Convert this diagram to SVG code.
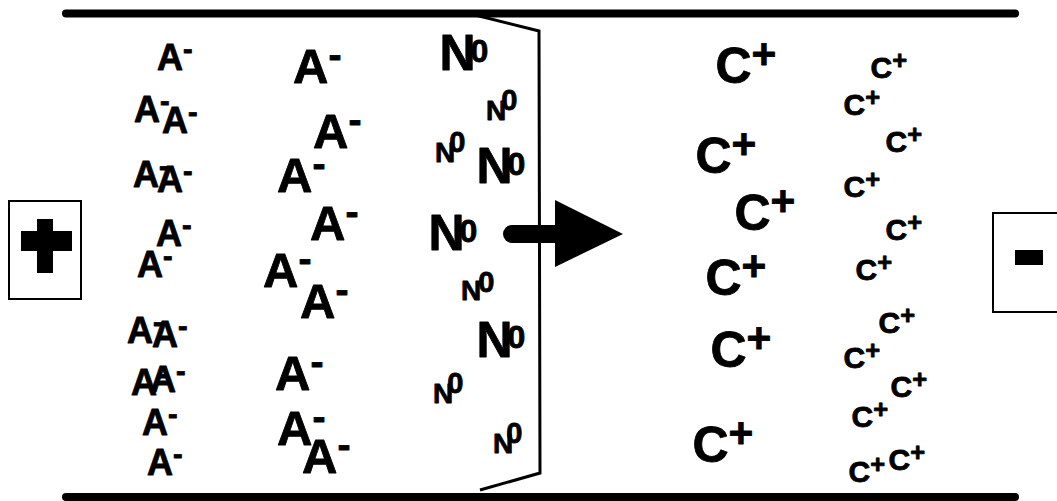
<svg xmlns="http://www.w3.org/2000/svg" width="1057" height="501" viewBox="0 0 1057 501">
<style>
text{font-family:"Liberation Sans",Arial,sans-serif;font-weight:bold;fill:#000;stroke:#000;stroke-width:0.8px;stroke-linejoin:round}
.as{font-size:36px}
.ab{font-size:49px}
.m{font-size:0.8em}
.nb{font-size:50px}
.ns{font-size:28px}
.zb{font-size:32px}
.zs{font-size:29px}
.cb{font-size:50px}
.cs{font-size:30px}
.p{font-size:0.85em}
.bar{stroke:#000;stroke-width:8;stroke-linecap:round;fill:none}
.thin{stroke:#000;stroke-width:3;fill:none;stroke-linejoin:miter}
.box{fill:#fff;stroke:#000;stroke-width:2}
</style>
<rect width="1057" height="501" fill="#fff"/>
<g id="plates">
<line class="bar" x1="66" y1="13.5" x2="1015" y2="13.5"/>
<line class="bar" x1="66" y1="497" x2="1015" y2="497"/>
</g>
<g id="anode">
<rect class="box" x="9" y="201" width="72" height="98"/>
<rect x="21" y="231" width="51" height="20" fill="#000"/>
<rect x="37" y="219" width="16" height="54" fill="#000"/>
</g>
<g id="cathode">
<rect class="box" x="993" y="213" width="70" height="99"/>
<rect x="1015" y="250" width="28" height="15" fill="#000"/>
</g>
<g id="membrane">
<polyline class="thin" points="467,13 539,31 540,473 480,490"/>
</g>
<g id="arrow">
<path d="M512,225 H556 V243 H512 A9,9 0 0 1 512,225 Z" fill="#000"/>
<polygon points="555,200 623,234 555,267" fill="#000"/>
</g>
<g id="anions-small">
<text class="as" x="157" y="70">A<tspan class="m" dy="-0.37em">-</tspan></text>
<text class="as" x="134" y="122">A<tspan class="m" dy="-0.37em">-</tspan></text>
<text class="as" x="162" y="133">A<tspan class="m" dy="-0.37em">-</tspan></text>
<text class="as" x="133" y="187">A<tspan class="m" dy="-0.37em">-</tspan></text>
<text class="as" x="157" y="192">A<tspan class="m" dy="-0.37em">-</tspan></text>
<text class="as" x="156" y="246">A<tspan class="m" dy="-0.37em">-</tspan></text>
<text class="as" x="137" y="277">A<tspan class="m" dy="-0.37em">-</tspan></text>
<text class="as" x="127" y="343">A<tspan class="m" dy="-0.37em">-</tspan></text>
<text class="as" x="152" y="347">A<tspan class="m" dy="-0.37em">-</tspan></text>
<text class="as" x="131" y="395">A<tspan class="m" dy="-0.37em">-</tspan></text>
<text class="as" x="150" y="392">A<tspan class="m" dy="-0.37em">-</tspan></text>
<text class="as" x="142" y="435">A<tspan class="m" dy="-0.37em">-</tspan></text>
<text class="as" x="147" y="475">A<tspan class="m" dy="-0.37em">-</tspan></text>
</g>
<g id="anions-large">
<text class="ab" x="293" y="83">A<tspan class="m" dy="-0.37em">-</tspan></text>
<text class="ab" x="313" y="148">A<tspan class="m" dy="-0.37em">-</tspan></text>
<text class="ab" x="277" y="192">A<tspan class="m" dy="-0.37em">-</tspan></text>
<text class="ab" x="310" y="240">A<tspan class="m" dy="-0.37em">-</tspan></text>
<text class="ab" x="263" y="287">A<tspan class="m" dy="-0.37em">-</tspan></text>
<text class="ab" x="300" y="318">A<tspan class="m" dy="-0.37em">-</tspan></text>
<text class="ab" x="275" y="390">A<tspan class="m" dy="-0.37em">-</tspan></text>
<text class="ab" x="277" y="445">A<tspan class="m" dy="-0.37em">-</tspan></text>
<text class="ab" x="302" y="473">A<tspan class="m" dy="-0.37em">-</tspan></text>
</g>
<g id="neutrals">
<text class="nb" x="439.4" y="70">N<tspan class="zb" dx="-5" dy="-8">0</tspan></text>
<text class="nb" x="476.4" y="183">N<tspan class="zb" dx="-5" dy="-8">0</tspan></text>
<text class="nb" x="428.4" y="250">N<tspan class="zb" dx="-5" dy="-8">0</tspan></text>
<text class="nb" x="476.4" y="357">N<tspan class="zb" dx="-5" dy="-9">0</tspan></text>
<text class="ns" x="486" y="120">N<tspan class="zs" dx="-5" dy="-10">0</tspan></text>
<text class="ns" x="435" y="162">N<tspan class="zs" dx="-6" dy="-10">0</tspan></text>
<text class="ns" x="461" y="300">N<tspan class="zs" dx="-3" dy="-8">0</tspan></text>
<text class="ns" x="433" y="403">N<tspan class="zs" dx="-6" dy="-10">0</tspan></text>
<text class="ns" x="493" y="453">N<tspan class="zs" dx="-7" dy="-10">0</tspan></text>
</g>
<g id="cations-large">
<text class="cb" x="715.5" y="82.5">C<tspan class="p" dy="-0.33em">+</tspan></text>
<text class="cb" x="695.5" y="172.5">C<tspan class="p" dy="-0.33em">+</tspan></text>
<text class="cb" x="734.5" y="229.5">C<tspan class="p" dy="-0.33em">+</tspan></text>
<text class="cb" x="705.5" y="294.5">C<tspan class="p" dy="-0.33em">+</tspan></text>
<text class="cb" x="710.5" y="366.5">C<tspan class="p" dy="-0.33em">+</tspan></text>
<text class="cb" x="692.5" y="461.5">C<tspan class="p" dy="-0.33em">+</tspan></text>
</g>
<g id="cations-small">
<text class="cs" x="870.5" y="77.5">C<tspan class="p" dy="-0.33em">+</tspan></text>
<text class="cs" x="843.5" y="114.5">C<tspan class="p" dy="-0.33em">+</tspan></text>
<text class="cs" x="885.5" y="151.5">C<tspan class="p" dy="-0.33em">+</tspan></text>
<text class="cs" x="843.5" y="196.5">C<tspan class="p" dy="-0.33em">+</tspan></text>
<text class="cs" x="885.5" y="239.5">C<tspan class="p" dy="-0.33em">+</tspan></text>
<text class="cs" x="855.5" y="279.5">C<tspan class="p" dy="-0.33em">+</tspan></text>
<text class="cs" x="878.5" y="332.5">C<tspan class="p" dy="-0.33em">+</tspan></text>
<text class="cs" x="843.5" y="367.5">C<tspan class="p" dy="-0.33em">+</tspan></text>
<text class="cs" x="890.5" y="396.5">C<tspan class="p" dy="-0.33em">+</tspan></text>
<text class="cs" x="851.5" y="426.5">C<tspan class="p" dy="-0.33em">+</tspan></text>
<text class="cs" x="848.5" y="481.5">C<tspan class="p" dy="-0.33em">+</tspan></text>
<text class="cs" x="888.5" y="469.5">C<tspan class="p" dy="-0.33em">+</tspan></text>
</g>
</svg>
